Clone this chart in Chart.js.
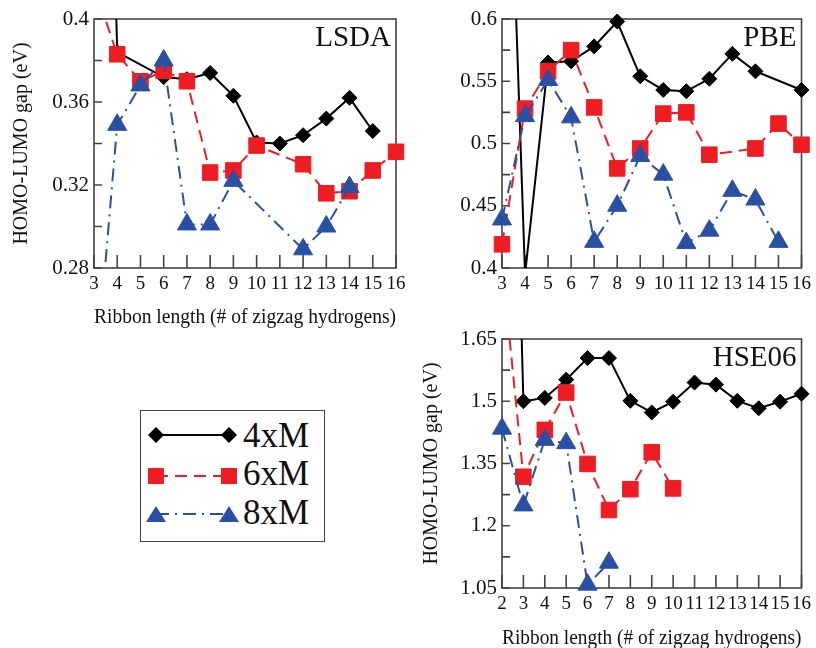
<!DOCTYPE html>
<html>
<head>
<meta charset="utf-8">
<script src="https://cdn.jsdelivr.net/npm/chart.js@4.4.1/dist/chart.umd.min.js"></script>
<style>
html, body { margin: 0; padding: 0; background: #fff; }
body { width: 816px; height: 648px; position: relative; overflow: hidden; font-family: 'Liberation Serif', 'Times New Roman', serif; }
canvas { position: absolute; }
#legend { position: absolute; left: 140px; top: 410px; width: 185px; height: 132px; border: 1.5px solid #444; box-sizing: border-box; }
#legend canvas { left: 0; top: 0; }
#legend .lab { position: absolute; left: 102px; font-size: 35px; line-height: 35px; color: #111; }
</style>
</head>
<body>
<canvas id="lsda" width="420" height="330" style="left:0;top:0"></canvas>
<canvas id="pbe" width="406" height="300" style="left:410px;top:0"></canvas>
<canvas id="hse" width="406" height="328" style="left:410px;top:320px"></canvas>
<div id="legend">
  <canvas id="legendMarks" width="100" height="130"></canvas>
  <div class="lab" style="top:7px">4xM</div>
  <div class="lab" style="top:45px">6xM</div>
  <div class="lab" style="top:84px">8xM</div>
</div>
<script>
// series names (legend)
const seriesNames = ['4xM', '6xM', '8xM'];

// LSDA panel
const lsdaX4 = [3, 4, 6, 7, 8, 9, 10, 11, 12, 13, 14, 15];
const lsdaY4 = [0.8, 0.384, 0.372, 0.371, 0.374, 0.363, 0.3405, 0.340, 0.344, 0.352, 0.362, 0.346];
const lsdaX6 = [3, 4, 5, 6, 7, 8, 9, 10, 12, 13, 14, 15, 16];
const lsdaY6 = [0.416, 0.383, 0.370, 0.375, 0.370, 0.326, 0.327, 0.339, 0.330, 0.316, 0.317, 0.327, 0.336];
const lsdaX8 = [3, 4, 5, 6, 7, 8, 9, 12, 13, 14];
const lsdaY8 = [0.218, 0.349, 0.368, 0.380, 0.301, 0.301, 0.322, 0.289, 0.300, 0.319];

// PBE panel
const pbeX4 = [3, 4, 5, 6, 7, 8, 9, 10, 11, 12, 13, 14, 16];
const pbeY4 = [0.93, 0.395, 0.565, 0.566, 0.578, 0.598, 0.554, 0.543, 0.542, 0.552, 0.572, 0.558, 0.543];
const pbeX6 = [3, 4, 5, 6, 7, 8, 9, 10, 11, 12, 14, 15, 16];
const pbeY6 = [0.419, 0.528, 0.558, 0.575, 0.529, 0.480, 0.496, 0.524, 0.525, 0.491, 0.496, 0.516, 0.499];
const pbeX8 = [3, 4, 5, 6, 7, 8, 9, 10, 11, 12, 13, 14, 15];
const pbeY8 = [0.439, 0.522, 0.551, 0.521, 0.421, 0.450, 0.490, 0.475, 0.420, 0.430, 0.462, 0.455, 0.421];

// HSE06 panel
const hseX4 = [2, 3, 4, 5, 6, 7, 8, 9, 10, 11, 12, 13, 14, 15, 16];
const hseY4 = [3.4, 1.50, 1.508, 1.552, 1.604, 1.604, 1.501, 1.473, 1.499, 1.545, 1.540, 1.501, 1.483, 1.499, 1.518];
const hseX6 = [2, 3, 4, 5, 6, 7, 8, 9, 10];
const hseY6 = [1.833, 1.318, 1.431, 1.521, 1.349, 1.238, 1.288, 1.377, 1.290];
const hseX8 = [2, 3, 4, 5, 6, 7];
const hseY8 = [1.434, 1.249, 1.407, 1.399, 1.058, 1.111];

const xTitle = 'Ribbon length (# of zigzag hydrogens)';
const yTitle = 'HOMO-LUMO gap (eV)';

const BLACK = '#000000';
const RED = '#ee1d23';
const BLUE = '#2a50a4';

Chart.defaults.font.family = "'Liberation Serif', 'Times New Roman', serif";
Chart.defaults.color = '#111';

// frame + inward ticks
const frameTicks = {
    id: 'frameTicks',
    beforeDatasetsDraw(chart) {
        const { ctx, chartArea: a, scales } = chart;
        ctx.save();
        ctx.strokeStyle = '#444';
        ctx.lineWidth = 1.6;
        ctx.beginPath();
        scales.x.ticks.forEach(t => {
            const px = scales.x.getPixelForValue(t.value);
            ctx.moveTo(px, a.bottom);
            ctx.lineTo(px, a.bottom - 13);
        });
        scales.y.ticks.forEach(t => {
            const py = scales.y.getPixelForValue(t.value);
            ctx.moveTo(a.left, py);
            ctx.lineTo(a.left + 8, py);
        });
        ctx.stroke();
        ctx.strokeRect(a.left, a.top, a.right - a.left, a.bottom - a.top);
        ctx.restore();
    }
};

// clip lines to the plot box but let markers that sit on the edge show whole
const edgeClip = {
    id: 'edgeClip',
    beforeDatasetDraw(chart, args) {
        const { ctx, chartArea: a } = chart;
        ctx.save();
        ctx.beginPath();
        ctx.rect(a.left, a.top, a.right - a.left, a.bottom - a.top);
        args.meta.data.forEach(pt => {
            if (pt.x >= a.left - 1 && pt.x <= a.right + 1 && pt.y >= a.top - 1 && pt.y <= a.bottom + 1) {
                ctx.rect(pt.x - 13, pt.y - 13, 26, 26);
            }
        });
        ctx.clip();
    },
    afterDatasetDraw(chart) {
        chart.ctx.restore();
    }
};

// method name in the upper right corner
const panelTag = {
    id: 'panelTag',
    afterDatasetsDraw(chart, args, opts) {
        const { ctx, chartArea: a } = chart;
        ctx.save();
        ctx.font = "29px 'Liberation Serif', serif";
        ctx.fillStyle = '#111';
        ctx.textAlign = 'right';
        ctx.textBaseline = 'alphabetic';
        ctx.fillText(opts.text, a.right - 5, a.top + 27);
        ctx.restore();
    }
};

function points(xs, ys) {
    return xs.map((x, i) => ({ x: x, y: ys[i] }));
}

function makeSets(x4, y4, x6, y6, x8, y8) {
    return [
        {
            label: seriesNames[0], data: points(x4, y4), order: 3,
            borderColor: BLACK, backgroundColor: BLACK, borderWidth: 2,
            pointStyle: 'rectRot', pointRadius: 7.5, pointBorderWidth: 1,
            pointBackgroundColor: BLACK, pointBorderColor: BLACK
        },
        {
            label: seriesNames[1], data: points(x6, y6), order: 2,
            borderColor: RED, backgroundColor: RED, borderWidth: 2, borderDash: [12, 7],
            pointStyle: 'rect', pointRadius: 11, pointBorderWidth: 1,
            pointBackgroundColor: RED, pointBorderColor: RED
        },
        {
            label: seriesNames[2], data: points(x8, y8), order: 1,
            borderColor: BLUE, backgroundColor: BLUE, borderWidth: 2, borderDash: [13, 6, 2, 6],
            pointStyle: 'triangle', pointRadius: 11, pointBorderWidth: 1,
            pointBackgroundColor: BLUE, pointBorderColor: BLUE
        }
    ];
}

function makePanel(id, cfg) {
    const ctx = document.getElementById(id).getContext('2d');
    return new Chart(ctx, {
        type: 'line',
        data: { datasets: cfg.sets.map(s => Object.assign(s, { clip: false, tension: 0, fill: false })) },
        plugins: [frameTicks, edgeClip, panelTag],
        options: {
            responsive: false,
            animation: false,
            devicePixelRatio: 1,
            layout: { padding: cfg.padding },
            plugins: {
                legend: { display: false },
                tooltip: { enabled: false },
                panelTag: { text: cfg.tag }
            },
            scales: {
                x: {
                    type: 'linear',
                    min: cfg.xMin, max: cfg.xMax,
                    grid: { display: false, drawTicks: false },
                    border: { display: false },
                    ticks: {
                        stepSize: 1, autoSkip: false, maxRotation: 0, padding: 5,
                        font: { size: 19 }, color: '#111'
                    },
                    title: {
                        display: cfg.showXTitle, text: xTitle,
                        font: { size: 20 }, color: '#111',
                        padding: { top: 0, bottom: cfg.xTitlePad }
                    },
                    afterFit(scale) { scale.height = cfg.xHeight; }
                },
                y: {
                    min: cfg.yMin, max: cfg.yMax,
                    grid: { display: false, drawTicks: false },
                    border: { display: false },
                    ticks: {
                        stepSize: cfg.yStep, autoSkip: false, padding: 5,
                        font: { size: 21 }, color: '#111',
                        callback: cfg.yLabel
                    },
                    title: {
                        display: cfg.showYTitle, text: yTitle,
                        font: { size: 20 }, color: '#111',
                        padding: { top: 10, bottom: 0 }
                    },
                    afterFit(scale) { scale.width = cfg.yWidth; }
                }
            }
        }
    });
}

makePanel('lsda', {
    sets: makeSets(lsdaX4, lsdaY4, lsdaX6, lsdaY6, lsdaX8, lsdaY8),
    tag: 'LSDA', xMin: 3, xMax: 16, yMin: 0.28, yMax: 0.4, yStep: 0.02,
    yLabel: v => (Math.round(v * 100) % 4 === 0 ? String(Math.round(v * 100) / 100) : ''),
    padding: { left: 0, top: 19, right: 24, bottom: 0 },
    yWidth: 94, xHeight: 62, showXTitle: true, showYTitle: true, xTitlePad: 0
});

makePanel('pbe', {
    sets: makeSets(pbeX4, pbeY4, pbeX6, pbeY6, pbeX8, pbeY8),
    tag: 'PBE', xMin: 3, xMax: 16, yMin: 0.4, yMax: 0.6, yStep: 0.025,
    yLabel: v => (Math.round(v * 1000) % 50 === 0 ? String(Math.round(v * 100) / 100) : ''),
    padding: { left: 0, top: 19, right: 10, bottom: 0 },
    yWidth: 92, xHeight: 32, showXTitle: false, showYTitle: false, xTitlePad: 0
});

makePanel('hse', {
    sets: makeSets(hseX4, hseY4, hseX6, hseY6, hseX8, hseY8),
    tag: 'HSE06', xMin: 2, xMax: 16, yMin: 1.05, yMax: 1.65, yStep: 0.075,
    yLabel: v => (Math.round(v * 1000 - 1050) % 150 === 0 ? String(Math.round(v * 100) / 100) : ''),
    padding: { left: 0, top: 19, right: 10, bottom: 0 },
    yWidth: 92, xHeight: 60, showXTitle: true, showYTitle: true, xTitlePad: -3
});

// legend samples
function drawLegend() {
    const ctx = document.getElementById('legendMarks').getContext('2d');
    const rows = [
        { y: 24, color: BLACK, dash: [], shape: 'diamond' },
        { y: 65, color: RED, dash: [12, 7], shape: 'square' },
        { y: 103, color: BLUE, dash: [13, 6, 2, 6], shape: 'triangle' }
    ];
    const x0 = 15, x1 = 88;
    rows.forEach(r => {
        ctx.save();
        ctx.strokeStyle = r.color;
        ctx.fillStyle = r.color;
        ctx.lineWidth = 2;
        ctx.setLineDash(r.dash);
        ctx.beginPath();
        ctx.moveTo(x0, r.y);
        ctx.lineTo(x1, r.y);
        ctx.stroke();
        ctx.setLineDash([]);
        [x0, x1].forEach(x => {
            ctx.beginPath();
            if (r.shape === 'diamond') {
                ctx.moveTo(x - 8, r.y); ctx.lineTo(x, r.y - 8); ctx.lineTo(x + 8, r.y); ctx.lineTo(x, r.y + 8);
            } else if (r.shape === 'square') {
                ctx.rect(x - 8, r.y - 8, 16, 16);
            } else {
                ctx.moveTo(x, r.y - 8); ctx.lineTo(x + 10, r.y + 8); ctx.lineTo(x - 10, r.y + 8);
            }
            ctx.closePath();
            ctx.fill();
        });
        ctx.restore();
    });
}
drawLegend();
</script>
</body>
</html>
